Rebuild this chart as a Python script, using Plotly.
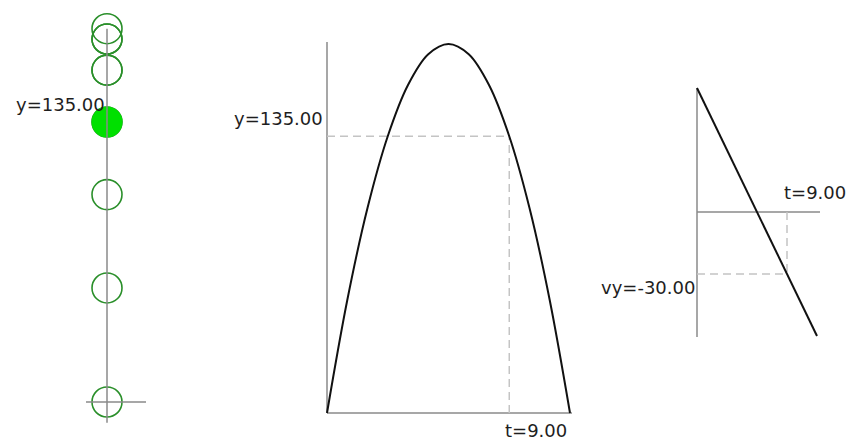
import plotly.graph_objects as go

# Ball thrown straight up: samples once per second
BALL_T = [0, 1, 2, 3, 4, 5, 6, 7, 8, 9]
BALL_Y = [0, 55, 100, 135, 160, 175, 180, 175, 160, 135]

# Height vs time over the whole flight
CURVE_T = [0, 1, 2, 3, 4, 5, 6, 7, 8, 9, 10, 11, 12]
CURVE_Y = [0, 55, 100, 135, 160, 175, 180, 175, 160, 135, 100, 55, 0]

# Vertical velocity vs time (straight line)
VY_T = [0, 12]
VY = [60, -60]

# Current instant
T_NOW = 9.0
Y_NOW = 135.0
VY_NOW = -30.0

W, H = 853, 442
AXIS_C = "#8a8a8a"
DASH_C = "#c4c4c4"
TEXT_C = "#1e1e1e"
FONT = dict(family="DejaVu Sans", size=18, color=TEXT_C)

fig = go.Figure()

# --- left: the ball on its vertical track ---
n = len(BALL_T)
fig.add_trace(go.Scatter(
    x=[0] * (n - 1), y=BALL_Y[:-1], mode="markers",
    marker=dict(size=30, color="rgba(0,0,0,0)", line=dict(color="#2a8f2a", width=1.6)),
    xaxis="x", yaxis="y", hoverinfo="skip", showlegend=False))
fig.add_trace(go.Scatter(
    x=[0], y=[BALL_Y[-1]], mode="markers",
    marker=dict(size=31, color="#00e000", line=dict(width=0)),
    xaxis="x", yaxis="y", hoverinfo="skip", showlegend=False))

# --- middle: height vs time ---
fig.add_trace(go.Scatter(
    x=CURVE_T, y=CURVE_Y, mode="lines", line=dict(color="#111111", width=2, shape="spline"),
    xaxis="x2", yaxis="y2", hoverinfo="skip", showlegend=False))

# --- right: velocity vs time ---
fig.add_trace(go.Scatter(
    x=VY_T, y=VY, mode="lines", line=dict(color="#111111", width=2),
    xaxis="x3", yaxis="y3", hoverinfo="skip", showlegend=False))

ymax = max(CURVE_Y)
tmax = max(CURVE_T)
shapes = []


def seg(xref, yref, x0, y0, x1, y1, color=AXIS_C, width=1.5, dash=None, layer="below"):
    line = dict(color=color, width=width)
    if dash:
        line["dash"] = dash
    shapes.append(dict(type="line", xref=xref, yref=yref, x0=x0, y0=y0, x1=x1, y1=y1,
                       line=line, layer=layer))


# left track and ground mark, drawn over the ball
seg("x", "y", 0, -10, 0, max(BALL_Y), layer="above")
seg("x", "y", -21, 0, 39, 0, layer="above")

# middle axes and guides
seg("x2", "y2", 0, 0, 0, ymax + 1)
seg("x2", "y2", 0, 0, tmax + 0.1, 0)
seg("x2", "y2", 0, Y_NOW, T_NOW, Y_NOW, DASH_C, 1.5, "8px,5px")
seg("x2", "y2", T_NOW, 0, T_NOW, Y_NOW, DASH_C, 1.5, "8px,5px")

# right axes and guides
seg("x3", "y3", 0, min(VY) - 0.5, 0, max(VY))
seg("x3", "y3", 0, 0, tmax + 0.3, 0)
seg("x3", "y3", T_NOW, 0, T_NOW, VY_NOW, DASH_C, 1.5, "8px,5px")
seg("x3", "y3", 0, VY_NOW, T_NOW, VY_NOW, DASH_C, 1.5, "8px,5px")

annotations = [
    dict(xref="x", yref="y", x=0, y=Y_NOW, text=f"y={Y_NOW:.2f}", xanchor="right",
         yanchor="middle", xshift=0, yshift=18),
    dict(xref="x2", yref="y2", x=0, y=Y_NOW, text=f"y={Y_NOW:.2f}", xanchor="right",
         yanchor="middle", xshift=-2, yshift=18),
    dict(xref="x2", yref="y2", x=T_NOW, y=0, text=f"t={T_NOW:.2f}", xanchor="left",
         yanchor="middle", xshift=-6, yshift=-17),
    dict(xref="x3", yref="y3", x=T_NOW, y=0, text=f"t={T_NOW:.2f}", xanchor="left",
         yanchor="middle", xshift=-5, yshift=20),
    dict(xref="x3", yref="y3", x=0, y=VY_NOW, text=f"vy={VY_NOW:.2f}", xanchor="right",
         yanchor="middle", xshift=0, yshift=-13),
]
for a in annotations:
    a.update(showarrow=False, font=FONT)

hidden = dict(visible=False, showgrid=False, zeroline=False, fixedrange=True)

fig.update_layout(
    width=W, height=H, margin=dict(l=0, r=0, t=0, b=0),
    paper_bgcolor="white", plot_bgcolor="white",
    xaxis=dict(domain=[0, 200 / W], range=[-107, 93], **hidden),
    yaxis=dict(domain=[0, 1], range=[-40 / 2.074, 402 / 2.074], **hidden),
    xaxis2=dict(domain=[300 / W, 600 / W], range=[-27 / 20.25, 273 / 20.25], anchor="y2", **hidden),
    yaxis2=dict(domain=[0, 1], range=[-29 / 2.05, 413 / 2.05], anchor="x2", **hidden),
    xaxis3=dict(domain=[640 / W, 1.0], range=[-5.7, 15.6], anchor="y3", **hidden),
    yaxis3=dict(domain=[0, 1], range=[-230 / 2.067, 212 / 2.067], anchor="x3", **hidden),
    shapes=shapes, annotations=annotations,
)

fig.write_html("out.html")
